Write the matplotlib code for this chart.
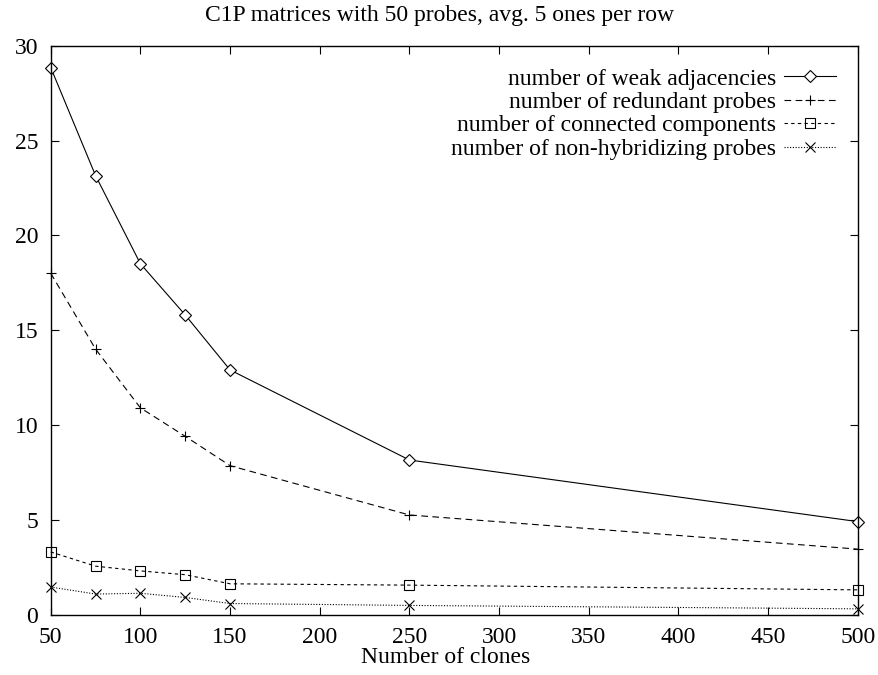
import numpy as np
import matplotlib.pyplot as plt

plt.rcParams['font.family'] = ['Liberation Serif', 'DejaVu Serif']

clones = [50, 75, 100, 125, 150, 250, 500]
weak_adj = [28.85, 23.15, 18.5, 15.8, 12.9, 8.15, 4.9]
redundant = [18.0, 14.0, 10.9, 9.4, 7.85, 5.25, 3.45]
components = [3.3, 2.55, 2.3, 2.1, 1.62, 1.55, 1.3]
non_hyb = [1.45, 1.08, 1.12, 0.9, 0.58, 0.48, 0.3]

labels = ['number of weak adjacencies', 'number of redundant probes',
          'number of connected components', 'number of non-hybridizing probes']
xticks = np.arange(50, 501, 50)
yticks = np.arange(0, 31, 5)

fig = plt.figure(figsize=(8.79, 6.75), dpi=100)
ax = fig.add_axes([0.0577, 0.0896, 0.9181, 0.8427])

lw = 0.8
ax.plot(clones, weak_adj, color='black', lw=lw, linestyle='-', marker='D', ms=6,
        mfc='white', mec='black', mew=0.8, label=labels[0], clip_on=False)
ax.plot(clones, redundant, color='black', lw=lw, linestyle=(0, (6, 4)), marker='+', ms=7,
        mew=0.8, label=labels[1], clip_on=False)
ax.plot(clones, components, color='black', lw=lw, linestyle=(0, (3, 3)), marker='s', ms=7,
        mfc='none', mec='black', mew=0.8, label=labels[2], clip_on=False)
ax.plot(clones, non_hyb, color='black', lw=lw, linestyle=(0, (1, 1.5)), marker='x', ms=7,
        mew=0.8, label=labels[3], clip_on=False)

ax.set_xlim(50, 500)
ax.set_ylim(0, 30)
ax.set_xticks(xticks)
ax.set_yticks(yticks)
ax.tick_params(direction='in', length=6, width=0.8, labelsize=17,
               top=True, right=True, pad=9)
for s in ax.spines.values():
    s.set_linewidth(1.0)

leg = ax.legend(loc='upper right', bbox_to_anchor=(836 / 879, 1 - 68 / 675),
                bbox_transform=fig.transFigure, frameon=False, markerfirst=False,
                fontsize=17, handlelength=2.2, handletextpad=0.35,
                labelspacing=0.08, borderpad=0, borderaxespad=0)

fig.text(0.5, 1 - 15 / 675, 'C1P matrices with 50 probes, avg. 5 ones per row',
         ha='center', va='center', fontsize=17)
fig.text(0.5065, 1 - 663 / 675, 'Number of clones', ha='center', va='baseline',
         fontsize=17)

fig.savefig('out.png', dpi=100)
